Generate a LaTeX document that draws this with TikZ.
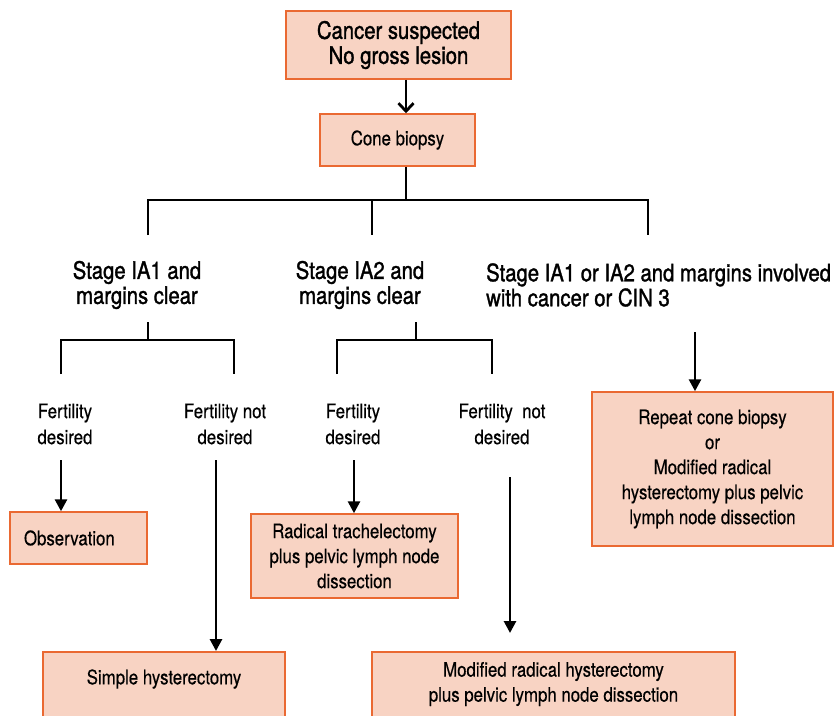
\documentclass[tikz,border=0pt]{standalone}
\usepackage{fontspec}
\setmainfont{TeX Gyre Heros}[FakeStretch=0.84,FakeBold=0.4]
\newfontfamily\medfont{TeX Gyre Heros}[FakeStretch=0.845,FakeBold=1.3]
\usetikzlibrary{calc}
\usetikzlibrary{arrows.meta}
\tikzset{>={Triangle[length=12pt,width=12pt]}}
\definecolor{boxfill}{RGB}{248,211,195}
\definecolor{boxline}{RGB}{234,105,50}
\tikzset{
  box/.style={draw=boxline,fill=boxfill,line width=1.5pt,inner sep=0pt,
    align=center,font=\fontsize{20}{25}\selectfont},
  bigtext/.style={align=center,inner sep=0pt,font=\medfont\fontsize{24}{25}\selectfont},
  smalltext/.style={align=center,inner sep=0pt,font=\fontsize{20}{26}\selectfont},
  conn/.style={line width=2.2pt},
  arrow/.style={->,line width=2.8pt},
}

\begin{document}
\begin{tikzpicture}[x=1pt,y=-1pt]
      \clip (0,0) rectangle (838,715);
      \fill[white] (0,0) rectangle (838,715);

      % boxes
      \node [box,minimum width=225pt,minimum height=68pt,
      font=\medfont\fontsize{24}{25}\selectfont] (top) at (398.5,45)
      {Cancer suspected\\No gross lesion};

      \node [box,minimum width=155pt,minimum height=52pt] (cone) at (397.5,140)
      {Cone biopsy};

      \node [box,minimum width=137pt,minimum height=52pt,text width=109pt,
      align=left] (obs) at (78.5,538) {Observation};

      \node [box,minimum width=207pt,minimum height=84pt] (trach) at (354.5,556)
      {Radical trachelectomy\\plus pelvic lymph node\\dissection};

      \node [box,minimum width=241pt,minimum height=154pt] (repeat) at (712.5,469)
      {Repeat cone biopsy\\or\\Modified radical\\hysterectomy plus pelvic\\lymph node dissection};

      \node [box,minimum width=242pt,minimum height=100pt,anchor=north,
      label={[anchor=center,yshift=-28pt,font=\fontsize{20}{25}\selectfont]north:Simple hysterectomy}]
      (simple) at (164,651) {};

      \node [box,minimum width=363pt,minimum height=100pt,anchor=north,
      label={[anchor=center,yshift=-33pt,align=center,font=\fontsize{20}{25}\selectfont]north:{Modified radical hysterectomy\\plus pelvic lymph node dissection}}]
      (modrad) at (553.5,651) {};

      % labels
      \node [bigtext] (s1) at (137,285) {Stage IA1 and\\margins clear};
      \node [bigtext] (s2) at (360,285) {Stage IA2 and\\margins clear};
      \node [bigtext,align=left,anchor=west] (s3) at (486,285)
      {Stage IA1 or IA2 and margins involved\\with cancer or CIN 3};

      \node [smalltext] (f1) at (65,424) {Fertility\\desired};
      \node [smalltext] (f2) at (225,424) {Fertility not\\desired};
      \node [smalltext] (f3) at (353,424) {Fertility\\desired};
      \node [smalltext] (f4) at (502,424) {Fertility\ \ not\\desired};

      % branch points
      \coordinate (j0) at (406,200);
      \coordinate (t1) at (148,235);
      \coordinate (t2) at (372,235);
      \coordinate (t3) at (648,235);

      \coordinate (j1) at (148,322);
      \coordinate (u1) at (61,374);
      \coordinate (u2) at (234,374);

      \coordinate (j2) at (416,322);
      \coordinate (u3) at (337,374);
      \coordinate (u4) at (492,374);

      \coordinate (a1) at (61,460);
      \coordinate (a2) at (216,460);
      \coordinate (a3) at (354,460);
      \coordinate (a4) at (510,477);
      \coordinate (a4e) at (510,633);
      \coordinate (a5) at (695,332);

      % connectors
      \draw [->,line width=2.8pt,>={Straight Barb[length=8pt,width=15pt]}]
      (top.south -| j0) -- (cone.north -| j0);

      \draw [conn] (cone.south -| j0) -- (j0);
      \draw [conn] (t1) -- (t1 |- j0) -- (t3 |- j0) -- (t3);
      \draw [conn] (t2 |- j0) -- (t2);

      \draw [conn] (j1) -- ++(0,18);
      \draw [conn] (u1) -- ++(0,-34) -| (u2);

      \draw [conn] (j2) -- ++(0,18);
      \draw [conn] (u3) -- ++(0,-34) -| (u4);

      \draw [arrow] (a1) -- (obs.north -| a1);
      \draw [arrow] (a2) -- (simple.north -| a2);
      \draw [arrow] (a3) -- (trach.north -| a3);
      \draw [arrow] (a4) -- (a4e);
      \draw [arrow] (a5) -- (repeat.north -| a5);
  \end{tikzpicture}
\end{document}
